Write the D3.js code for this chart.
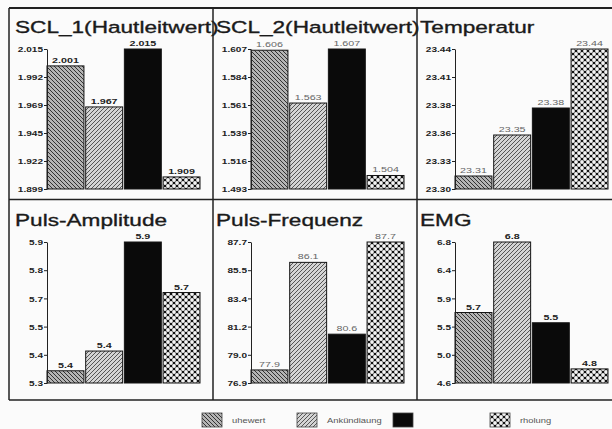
<!DOCTYPE html>
<html><head><meta charset="utf-8">
<script src="https://cdn.jsdelivr.net/npm/d3@7"></script>
<style>
html,body{margin:0;padding:0;background:#fbfbfb;}
svg{display:block;font-family:"Liberation Sans",Arial,sans-serif;}
</style></head>
<body>
<svg id="c" width="612" height="429"></svg>
<script>
// ---- data ----
const categories = ["uhewert", "Ankündiaung", "", "rholung"];
const titles = ["SCL_1(Hautleitwert)", "SCL_2(Hautleitwert)", "Temperatur", "Puls-Amplitude", "Puls-Frequenz", "EMG"];
const scl1Values = [2.001, 1.967, 2.015, 1.909];
const scl2Values = [1.606, 1.563, 1.607, 1.504];
const tempValues = [23.313, 23.354, 23.381, 23.44];
const ampValues = [5.352, 5.436, 5.9, 5.685];
const freqValues = [77.9, 86.14, 80.64, 87.7];
const emgValues = [5.7, 6.8, 5.54, 4.82];
const scl1Ticks = ["1.899", "1.922", "1.945", "1.969", "1.992", "2.015"];
const scl2Ticks = ["1.493", "1.516", "1.539", "1.561", "1.584", "1.607"];
const tempTicks = ["23.30", "23.33", "23.36", "23.38", "23.41", "23.44"];
const ampTicks = ["5.3", "5.4", "5.5", "5.7", "5.8", "5.9"];
const freqTicks = ["76.9", "79.0", "81.2", "83.4", "85.5", "87.7"];
const emgTicks = ["4.6", "5.0", "5.5", "5.9", "6.4", "6.8"];
const labelDecimals = [3, 3, 2, 1, 1, 1];

// ---- styles / layout ----
const SX = 1.34; // horizontal stretch of the scanned text
const colX = [9, 213, 417];
const rowY = [8, 200];
const labelColors = ["#222", "#666", "#666", "#222", "#666", "#222"];

const panels = [
  {values: scl1Values, ticks: scl1Ticks},
  {values: scl2Values, ticks: scl2Ticks},
  {values: tempValues, ticks: tempTicks},
  {values: ampValues, ticks: ampTicks},
  {values: freqValues, ticks: freqTicks},
  {values: emgValues, ticks: emgTicks}
];

const svg = d3.select("#c");
const defs = svg.append("defs");

const p1 = defs.append("pattern").attr("id","p1").attr("patternUnits","userSpaceOnUse").attr("width",4).attr("height",4);
p1.append("rect").attr("width",4).attr("height",4).attr("fill","#b4b4b4");
p1.append("path").attr("d","M-1,-1L5,5M-1,3L1,5M3,-1L5,1").attr("stroke","#333").attr("stroke-width",1);
const p2 = defs.append("pattern").attr("id","p2").attr("patternUnits","userSpaceOnUse").attr("width",4).attr("height",4);
p2.append("rect").attr("width",4).attr("height",4).attr("fill","#d4d4d4");
p2.append("path").attr("d","M-1,5L5,-1M-1,1L1,-1M3,5L5,3").attr("stroke","#555").attr("stroke-width",1);
const p4 = defs.append("pattern").attr("id","p4").attr("patternUnits","userSpaceOnUse").attr("width",6).attr("height",6);
p4.append("rect").attr("width",6).attr("height",6).attr("fill","#111");
[[0,0],[6,0],[0,6],[6,6],[3,3]].forEach(([cx,cy]) =>
  p4.append("circle").attr("cx",cx).attr("cy",cy).attr("r",1.9).attr("fill","#f4f4f4"));
const fills = ["url(#p1)", "url(#p2)", "#0a0a0a", "url(#p4)"];

function stretchedText(g, x, y, txt, opts) {
  return g.append("text")
    .attr("transform", `translate(${x},${y}) scale(${opts.sx || SX},1)`)
    .attr("text-anchor", opts.anchor || "start")
    .attr("font-size", opts.size)
    .attr("font-weight", opts.weight || "normal")
    .attr("fill", opts.color || "#111")
    .attr("stroke", opts.stroke || "none")
    .attr("stroke-width", opts.strokeWidth || 0)
    .text(txt);
}

panels.forEach((p, i) => {
  const col = i % 3, row = Math.floor(i / 3);
  const left = colX[col];
  const axisX = left + 38;
  const yTop = row === 0 ? 49 : 242;
  const yBot = row === 0 ? 189 : 383;
  const lo = +p.ticks[0], hi = +p.ticks[p.ticks.length - 1];
  const y = d3.scaleLinear().domain([lo, hi]).range([yBot, yTop]);
  const x = d3.scaleBand().domain(d3.range(4)).range([axisX, axisX + 153]).paddingInner(0.045).paddingOuter(0);
  const g = svg.append("g");

  g.selectAll("rect.bar").data(p.values).join("rect")
    .attr("class","bar")
    .attr("x", (d, k) => x(k))
    .attr("width", x.bandwidth())
    .attr("y", d => y(d))
    .attr("height", d => yBot - y(d))
    .attr("fill", (d, k) => fills[k])
    .attr("stroke", "#151515").attr("stroke-width", 1);

  const fmt = d3.format("." + labelDecimals[i] + "f");
  p.values.forEach((v, k) => {
    stretchedText(g, x(k) + x.bandwidth() / 2, y(v) - 3, fmt(v),
      {anchor: "middle", size: 8, color: labelColors[i], weight: i % 3 === 0 || i === 5 ? "bold" : "normal"});
  });

  const tickVals = p.ticks.map((t, k) => lo + k * (hi - lo) / (p.ticks.length - 1));
  const ax = g.append("g").attr("transform", `translate(${axisX},0)`)
    .call(d3.axisLeft(y).tickValues(tickVals).tickFormat((d, k) => p.ticks[k]).tickSize(3).tickSizeOuter(0).tickPadding(1));
  ax.select(".domain").attr("stroke", "#222");
  ax.selectAll(".tick line").attr("stroke", "#222");
  ax.selectAll(".tick text")
    .attr("font-family", '"Liberation Sans",Arial,sans-serif')
    .attr("font-size", 7.5).attr("font-weight", "bold").attr("fill", "#222")
    .attr("x", null).attr("dy", "0.35em")
    .attr("transform", `translate(-4,0) scale(${SX},1)`);

  stretchedText(svg, left + (col === 0 ? 6 : 3), row === 0 ? 33 : 226, titles[i],
    {size: 17, sx: 1.33, color: "#1a1a1a", stroke: "#1a1a1a", strokeWidth: 0.35});
});

const frame = svg.append("g").attr("stroke", "#222").attr("fill", "none");
frame.append("line").attr("x1", 9).attr("x2", 612).attr("y1", 8).attr("y2", 8).attr("stroke-width", 2);
frame.append("line").attr("x1", 9).attr("x2", 612).attr("y1", 400).attr("y2", 400).attr("stroke-width", 1.5);
frame.append("line").attr("x1", 9).attr("x2", 612).attr("y1", 199.5).attr("y2", 199.5).attr("stroke-width", 1.5);
[9, 213, 417].forEach(xx =>
  frame.append("line").attr("x1", xx).attr("x2", xx).attr("y1", 8).attr("y2", 400).attr("stroke-width", 1.5));

const legendX = [202, 297, 393, 490];
const lg = svg.append("g");
categories.forEach((c, k) => {
  lg.append("rect").attr("x", legendX[k]).attr("y", 413).attr("width", 20).attr("height", 14)
    .attr("fill", fills[k]).attr("stroke", "#444").attr("stroke-width", 0.8);
  if (c) stretchedText(lg, legendX[k] + 30, 423, c, {size: 7, color: "#555"});
});
</script>
</body></html>
